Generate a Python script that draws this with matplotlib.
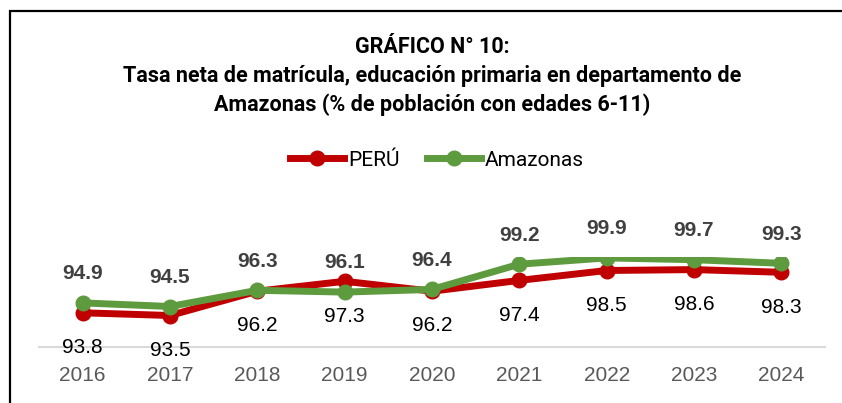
import matplotlib.pyplot as plt
from matplotlib.patches import Rectangle
from matplotlib.lines import Line2D

years = ["2016", "2017", "2018", "2019", "2020", "2021", "2022", "2023", "2024"]
peru = [93.8, 93.5, 96.2, 97.3, 96.2, 97.4, 98.5, 98.6, 98.3]
amazonas = [94.9, 94.5, 96.3, 96.1, 96.4, 99.2, 99.9, 99.7, 99.3]

title_lines = ["GRÁFICO N° 10:",
               "Tasa neta de matrícula, educación primaria en departamento de",
               "Amazonas (% de población con edades 6-11)"]

red = "#C00000"
green = "#5E9B3E"

W, H = 842, 403
fig = plt.figure(figsize=(W / 100, H / 100), dpi=100)

# chart frame (cut off on the right and bottom, like the screenshot)
fig.patches.append(Rectangle((10 / W, -0.1), 1.1, 1 - 11 / H + 0.1,
                             transform=fig.transFigure, fill=False,
                             edgecolor="black", linewidth=1.6))

ax = fig.add_axes([39 / W, 1 - 347 / H, (825 - 39) / W, 90 / H])
x = range(len(years))
ax.plot(x, peru, color=red, lw=5, marker="o", ms=10.5, solid_capstyle="round")
ax.plot(x, amazonas, color=green, lw=5, marker="o", ms=10.5, solid_capstyle="round")
ax.set_xlim(-0.5, 8.5)
ax.set_ylim(90, 100)

for i in x:
    ax.annotate(f"{amazonas[i]:.1f}", (i, amazonas[i]), xytext=(0, 21),
                textcoords="offset points", ha="center", va="center",
                fontsize=15, fontweight="bold", color="#404040",
                family="Liberation Sans", annotation_clip=False)
    ax.annotate(f"{peru[i]:.1f}", (i, peru[i]), xytext=(0, -25),
                textcoords="offset points", ha="center", va="center",
                fontsize=15, color="black", family="Liberation Sans",
                annotation_clip=False)

ax.set_xticks(list(x))
ax.set_xticklabels(years, fontsize=15, color="#595959", family="Liberation Sans")
ax.tick_params(axis="x", length=0, pad=14)
ax.set_yticks([])
for s in ["top", "left", "right"]:
    ax.spines[s].set_visible(False)
ax.spines["bottom"].set_color("#D9D9D9")
ax.spines["bottom"].set_linewidth(1.5)

for line, ypx in zip(title_lines, [47, 76, 105]):
    fig.text(432 / W, 1 - ypx / H, line, ha="center", va="center",
             fontsize=15.5, fontweight="bold", family="Roboto")

handles = [Line2D([], [], color=red, lw=5, marker="o", ms=10.5),
           Line2D([], [], color=green, lw=5, marker="o", ms=10.5)]
fig.legend(handles, ["PERÚ", "Amazonas"], loc="center", bbox_to_anchor=(437 / W, 1 - 160 / H),
           ncol=2, frameon=False, prop={"family": "Roboto", "size": 15},
           handlelength=2.6, handletextpad=0.2, columnspacing=1.3)

fig.savefig("out.png", dpi=100)
